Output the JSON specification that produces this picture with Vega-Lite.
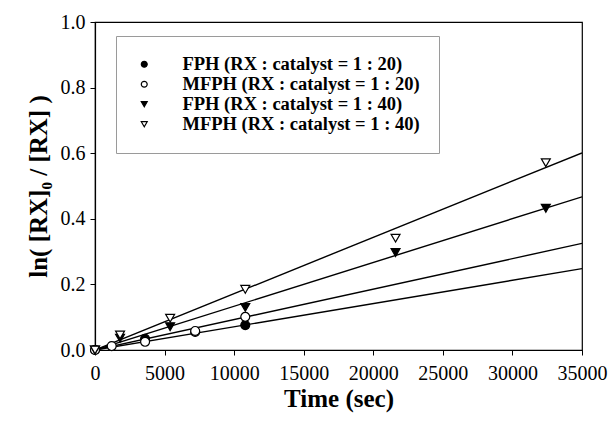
{
  "$schema": "https://vega.github.io/schema/vega-lite/v6.json",
  "width": 487,
  "height": 328,
  "autosize": {"type": "none"},
  "padding": {"left": 95, "top": 22, "right": 28, "bottom": 73},
  "background": "white",
  "config": {
    "view": {"stroke": "black", "strokeWidth": 1.2},
    "font": "Liberation Serif",
    "axis": {"grid": false, "domainColor": "black", "tickColor": "black", "labelColor": "black", "titleColor": "black", "labelFont": "Liberation Serif", "titleFont": "Liberation Serif", "labelFontSize": 20, "titleFontSize": 25, "titleFontWeight": "bold", "tickSize": 5, "domainWidth": 1.2, "labelFlush": false, "labelOverlap": false},
    "legend": {"orient": "none", "legendX": 21, "legendY": 14, "title": null, "labelFont": "Liberation Serif", "labelFontSize": 18.5, "labelFontWeight": "bold", "labelColor": "black", "symbolSize": 35, "symbolStrokeWidth": 1.2, "labelOffset": 29, "rowPadding": 1, "padding": 19, "strokeColor": "#9a9a9a", "fillColor": "white", "labelLimit": 400}
  },
  "datasets": {
    "points": [
      {"series": "FPH (RX : catalyst = 1 : 20)", "t": 0, "v": 0},
      {"series": "FPH (RX : catalyst = 1 : 20)", "t": 3600, "v": 0.034},
      {"series": "FPH (RX : catalyst = 1 : 20)", "t": 7200, "v": 0.055},
      {"series": "FPH (RX : catalyst = 1 : 20)", "t": 10800, "v": 0.076},
      {"series": "MFPH (RX : catalyst = 1 : 20)", "t": 0, "v": 0},
      {"series": "MFPH (RX : catalyst = 1 : 20)", "t": 1200, "v": 0.012},
      {"series": "MFPH (RX : catalyst = 1 : 20)", "t": 3600, "v": 0.025},
      {"series": "MFPH (RX : catalyst = 1 : 20)", "t": 7200, "v": 0.058},
      {"series": "MFPH (RX : catalyst = 1 : 20)", "t": 10800, "v": 0.101},
      {"series": "FPH (RX : catalyst = 1 : 40)", "t": 0, "v": 0},
      {"series": "FPH (RX : catalyst = 1 : 40)", "t": 1800, "v": 0.036},
      {"series": "FPH (RX : catalyst = 1 : 40)", "t": 5400, "v": 0.071},
      {"series": "FPH (RX : catalyst = 1 : 40)", "t": 10800, "v": 0.130},
      {"series": "FPH (RX : catalyst = 1 : 40)", "t": 21600, "v": 0.297},
      {"series": "FPH (RX : catalyst = 1 : 40)", "t": 32400, "v": 0.432},
      {"series": "MFPH (RX : catalyst = 1 : 40)", "t": 0, "v": 0},
      {"series": "MFPH (RX : catalyst = 1 : 40)", "t": 1800, "v": 0.046},
      {"series": "MFPH (RX : catalyst = 1 : 40)", "t": 5400, "v": 0.097},
      {"series": "MFPH (RX : catalyst = 1 : 40)", "t": 10800, "v": 0.185},
      {"series": "MFPH (RX : catalyst = 1 : 40)", "t": 21600, "v": 0.341},
      {"series": "MFPH (RX : catalyst = 1 : 40)", "t": 32400, "v": 0.571}
    ],
    "fits": [
      {"series": "FPH (RX : catalyst = 1 : 20)", "t": 0, "v": 0},
      {"series": "FPH (RX : catalyst = 1 : 20)", "t": 35000, "v": 0.248},
      {"series": "MFPH (RX : catalyst = 1 : 20)", "t": 0, "v": 0},
      {"series": "MFPH (RX : catalyst = 1 : 20)", "t": 35000, "v": 0.325},
      {"series": "FPH (RX : catalyst = 1 : 40)", "t": 0, "v": 0},
      {"series": "FPH (RX : catalyst = 1 : 40)", "t": 35000, "v": 0.467},
      {"series": "MFPH (RX : catalyst = 1 : 40)", "t": 0, "v": 0},
      {"series": "MFPH (RX : catalyst = 1 : 40)", "t": 35000, "v": 0.601}
    ]
  },
  "layer": [
    {
      "data": {"name": "fits"},
      "mark": {"type": "line", "color": "black", "strokeWidth": 1.4, "clip": true},
      "encoding": {
        "x": {"field": "t", "type": "quantitative", "scale": {"domain": [0, 35000], "nice": false}, "title": "Time (sec)", "axis": {"values": [0, 5000, 10000, 15000, 20000, 25000, 30000, 35000], "format": "d", "titlePadding": 3, "labelPadding": 8}},
        "y": {"field": "v", "type": "quantitative", "scale": {"domain": [0, 1], "nice": false}, "title": "ln( [RX]₀ / [RX] )", "axis": {"values": [0, 0.2, 0.4, 0.6, 0.8, 1.0], "format": ".1f", "titlePadding": 9, "labelPadding": 5}},
        "detail": {"field": "series"}
      }
    },
    {
      "data": {"name": "points"},
      "mark": {"type": "point", "filled": true, "strokeWidth": 1.2, "size": 80, "opacity": 1, "clip": false},
      "encoding": {
        "x": {"field": "t", "type": "quantitative"},
        "y": {"field": "v", "type": "quantitative"},
        "shape": {"field": "series", "type": "nominal",
          "scale": {"domain": ["FPH (RX : catalyst = 1 : 20)", "MFPH (RX : catalyst = 1 : 20)", "FPH (RX : catalyst = 1 : 40)", "MFPH (RX : catalyst = 1 : 40)"], "range": ["circle", "circle", "triangle-down", "triangle-down"]},
          "legend": {"title": null}},
        "fill": {"field": "series", "type": "nominal",
          "scale": {"domain": ["FPH (RX : catalyst = 1 : 20)", "MFPH (RX : catalyst = 1 : 20)", "FPH (RX : catalyst = 1 : 40)", "MFPH (RX : catalyst = 1 : 40)"], "range": ["black", "white", "black", "white"]},
          "legend": {"title": null}},
        "stroke": {"field": "series", "type": "nominal",
          "scale": {"domain": ["FPH (RX : catalyst = 1 : 20)", "MFPH (RX : catalyst = 1 : 20)", "FPH (RX : catalyst = 1 : 40)", "MFPH (RX : catalyst = 1 : 40)"], "range": ["black", "black", "black", "black"]},
          "legend": {"title": null}}
      }
    }
  ]
}
